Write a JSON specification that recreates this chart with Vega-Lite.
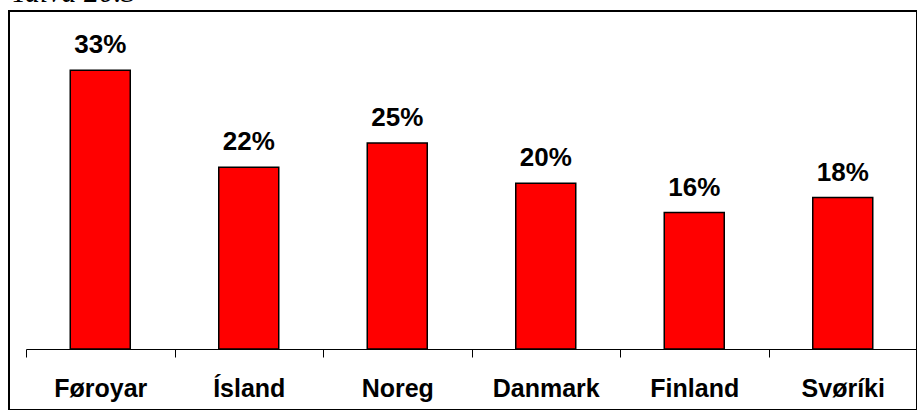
{
  "$schema": "https://vega.github.io/schema/vega-lite/v6.json",
  "autosize": {"type": "none"},
  "padding": {"left": 9, "top": 11, "right": 0, "bottom": 0},
  "width": 908,
  "height": 399,
  "title": {
    "text": "Talva 20.3",
    "anchor": "start",
    "frame": "group",
    "orient": "top",
    "baseline": "alphabetic",
    "offset": -21,
    "dx": 2,
    "font": "Liberation Serif",
    "fontStyle": "italic",
    "fontWeight": "normal",
    "fontSize": 30,
    "color": "#000000"
  },
  "data": {
    "values": [
      {"land": "Føroyar", "value": 0.333},
      {"land": "Ísland", "value": 0.217},
      {"land": "Noreg", "value": 0.246},
      {"land": "Danmark", "value": 0.198},
      {"land": "Finland", "value": 0.163},
      {"land": "Svøríki", "value": 0.181}
    ]
  },
  "encoding": {
    "x": {
      "field": "land",
      "type": "nominal",
      "sort": null,
      "scale": {"range": [17, 908], "paddingInner": 0, "paddingOuter": 0},
      "axis": {
        "title": null,
        "offset": -61,
        "labelAngle": 0,
        "labelFont": "Liberation Sans",
        "labelFontWeight": "bold",
        "labelFontSize": 25,
        "labelColor": "#000000",
        "labelBaseline": "alphabetic",
        "labelPadding": 39,
        "domainColor": "#000000",
        "domainWidth": 1,
        "tickColor": "#000000",
        "tickWidth": 1,
        "tickSize": 8,
        "tickBand": "extent",
        "grid": false
      }
    },
    "y": {
      "field": "value",
      "type": "quantitative",
      "scale": {"domain": [0, 0.4], "range": [338, 3.2], "nice": false, "zero": true},
      "axis": null
    }
  },
  "layer": [
    {
      "mark": {"type": "bar", "width": 60, "fill": "#FF0000", "stroke": "#000000", "strokeWidth": 1.5}
    },
    {
      "mark": {
        "type": "text",
        "align": "center",
        "baseline": "alphabetic",
        "dy": -17,
        "font": "Liberation Sans",
        "fontWeight": "bold",
        "fontSize": 26,
        "color": "#000000"
      },
      "encoding": {
        "text": {"field": "value", "type": "quantitative", "format": ".0%"}
      }
    }
  ],
  "config": {
    "view": {"stroke": "#000000", "strokeWidth": 2}
  }
}
